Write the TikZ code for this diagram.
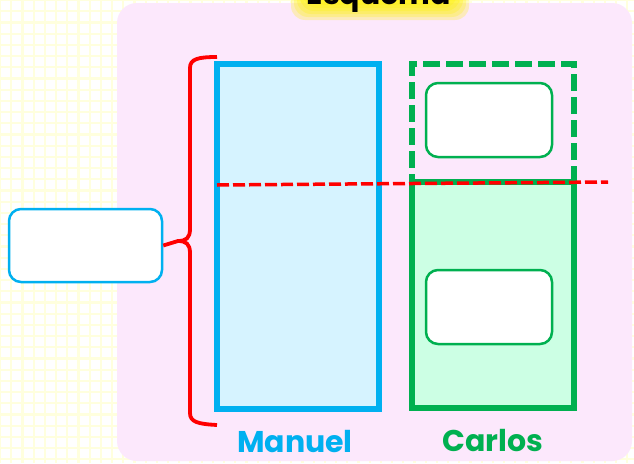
\documentclass[tikz,border=0pt]{standalone}
\usepackage{fontspec}
\newfontfamily\labelfont{Poppins}[UprightFont=* Bold]
\definecolor{blueC}{RGB}{0,176,240}
\definecolor{blueF}{RGB}{214,243,255}
\definecolor{greenC}{RGB}{0,176,80}
\definecolor{greenF}{RGB}{204,255,228}
\definecolor{pinkF}{RGB}{252,232,252}
\definecolor{gridC}{RGB}{255,255,222}
\definecolor{redC}{RGB}{255,0,0}
\tikzset{
  column/.style={draw, line width=6pt, inner sep=0pt, minimum width=162pt},
  emptybox/.style={draw, fill=white, line width=2.5pt, rounded corners=12pt, inner sep=0pt},
  name label/.style={font=\labelfont\fontsize{30}{32}\selectfont, anchor=base, inner sep=0pt},
  glow/.style={fill=yellow, opacity=0.25, rounded corners=14pt}
}
\begin{document}
\begin{tikzpicture}[x=1pt,y=-1pt]
\useasboundingbox (0,0) rectangle (634,463);
% background grid
\fill[white] (0,0) rectangle (634,463);
\draw[gridC, line width=2.2pt, step=11.2pt] (0,0) grid (634,463);
% panel
\fill[pinkF, rounded corners=20pt] (117,3) rectangle (632,461);
% title glow
\foreach \d in {0,3,6,9,12,15}{
  \fill[glow] (306-\d,-25) rectangle (454+\d,5+\d);
}
\node[name label, text=black] (title) at (379,5) {Esquema};
% columns
\node[column, draw=blueC, fill=blueF, minimum height=345pt] (manuel) at (298,236.5) {};
\node[column, draw=greenC, dash pattern=on 17pt off 6pt, minimum height=118pt] (future) at (493,123) {};
\node[column, draw=greenC, fill=greenF, minimum height=226pt] (carlos) at (493,295) {};
% inner boxes
\node[emptybox, draw=greenC, minimum width=126pt, minimum height=74pt] (boxA) at (489,120) {};
\node[emptybox, draw=greenC, minimum width=126pt, minimum height=74pt] (boxB) at (489,307) {};
\node[emptybox, draw=blueC, minimum width=153pt, minimum height=73pt] (total) at (85.5,245.5) {};
% dashed red line
\coordinate (dl) at (217,185);
\coordinate (dr) at (608,182);
\draw[redC, line width=3.5pt, dash pattern=on 12pt off 4pt] (dl) -- (dr);
% brace
\coordinate (bt) at (217,57);
\coordinate (bb) at (217,425);
\draw[redC, line width=3.8pt]
  (bt) .. controls (198,57) and (190,59) .. (190,68)
  -- (190,229)
  .. controls (190,238) and (186,241) .. (178,241)
  -- (total.east)
  (178,241) .. controls (186,241) and (190,244) .. (190,253)
  -- (190,413)
  .. controls (190,422) and (198,424) .. (bb);
% labels
\node[name label, text=blueC] (lm) at (295,452) {Manuel};
\node[name label, text=greenC] (lc) at (493,451) {Carlos};
\end{tikzpicture}
\end{document}
